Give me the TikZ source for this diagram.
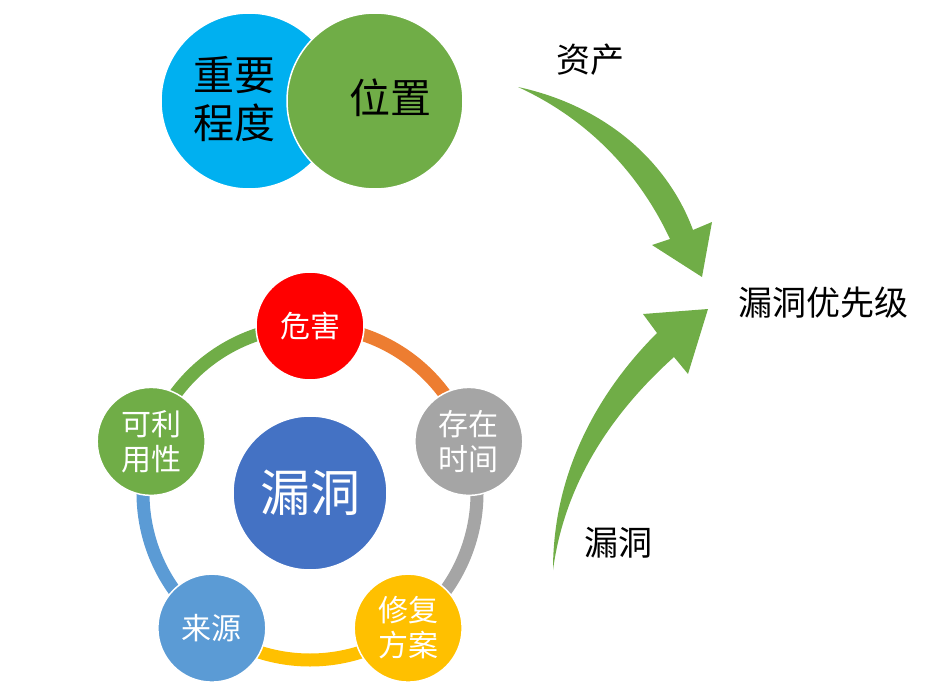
\documentclass[tikz,border=0pt]{standalone}
\usepackage{fontspec}
\usetikzlibrary{calc}
\newfontfamily\cjk{Noto Sans CJK SC}
\definecolor{skyblue}{HTML}{00B0F0}
\definecolor{leafgreen}{HTML}{70AD47}
\definecolor{hotred}{HTML}{FF0000}
\definecolor{arcorange}{HTML}{ED7D31}
\definecolor{stonegray}{HTML}{A5A5A5}
\definecolor{goldyellow}{HTML}{FFC000}
\definecolor{softblue}{HTML}{5B9BD5}
\definecolor{deepblue}{HTML}{4472C4}
\begin{document}
\begin{tikzpicture}[
    x=1pt, y=1pt,
    bigball/.style={circle, draw=white, line width=1.5pt, inner sep=0pt, minimum size=176pt},
    ball/.style={circle, draw=white, line width=1.5pt, inner sep=0pt, minimum size=108pt,
        text=white, align=center, font=\cjk\fontsize{30}{35}\selectfont},
    ringarc/.style={line width=13pt},
    word/.style={font=\cjk\fontsize{34}{38}\selectfont}
]
    \useasboundingbox (0,0) rectangle (951,-688);
    % Top pair of circles
    \node[bigball, fill=skyblue] (imp) at (249,-101) {};
    \node[bigball, fill=leafgreen] (pos) at (375,-101) {};
    \node[align=center, font=\cjk\fontsize{41}{48}\selectfont] (imptext) at (234,-99) {重要\\程度};
    \node[font=\cjk\fontsize{41}{48}\selectfont] (postext) at (390,-98) {位置};
    % Hub of the cycle
    \node[circle, draw=white, line width=1.5pt, fill=deepblue, minimum size=154pt, inner sep=0pt,
        text=white, font=\cjk\fontsize{50}{56}\selectfont] (hole) at (310,-493) {漏洞};
    % Ring segments
    \draw[ringarc, arcorange] (hole) ++(90:167) arc[start angle=90, end angle=18, radius=167];
    \draw[ringarc, stonegray] (hole) ++(18:167) arc[start angle=18, end angle=-54, radius=167];
    \draw[ringarc, goldyellow] (hole) ++(-54:167) arc[start angle=-54, end angle=-126, radius=167];
    \draw[ringarc, softblue] (hole) ++(-126:167) arc[start angle=-126, end angle=-198, radius=167];
    \draw[ringarc, leafgreen] (hole) ++(162:167) arc[start angle=162, end angle=90, radius=167];
    % Ring nodes
    \node[ball, fill=hotred] (harm) at ($(hole)+(90:167)$) {危害};
    \node[ball, fill=stonegray] (age) at ($(hole)+(18:167)$) {存在\\时间};
    \node[ball, fill=goldyellow] (fix) at ($(hole)+(-54:167)$) {修复\\方案};
    \node[ball, fill=softblue] (origin) at ($(hole)+(-126:167)$) {来源};
    \node[ball, fill=leafgreen] (usable) at ($(hole)+(162:167)$) {可利\\用性};
    % Labels on the right
    \node[word] (asset) at (590,-60) {资产};
    \node[word] (prio) at (823,-303) {漏洞优先级};
    \node[word] (vuln) at (618,-543) {漏洞};
    % Curved arrows
    \fill[leafgreen] (518,-87) .. controls (606,-106) and (668,-162) .. (693,-230)
        -- (712,-222) -- (702,-277) -- (652,-245) -- (670,-239)
        .. controls (640,-175) and (590,-120) .. cycle;
    \fill[leafgreen] (553,-570) .. controls (553,-470) and (600,-390) .. (657,-333)
        -- (643,-314) -- (708,-309) -- (688,-374) -- (674,-357)
        .. controls (615,-410) and (565,-480) .. cycle;
\end{tikzpicture}
\end{document}
